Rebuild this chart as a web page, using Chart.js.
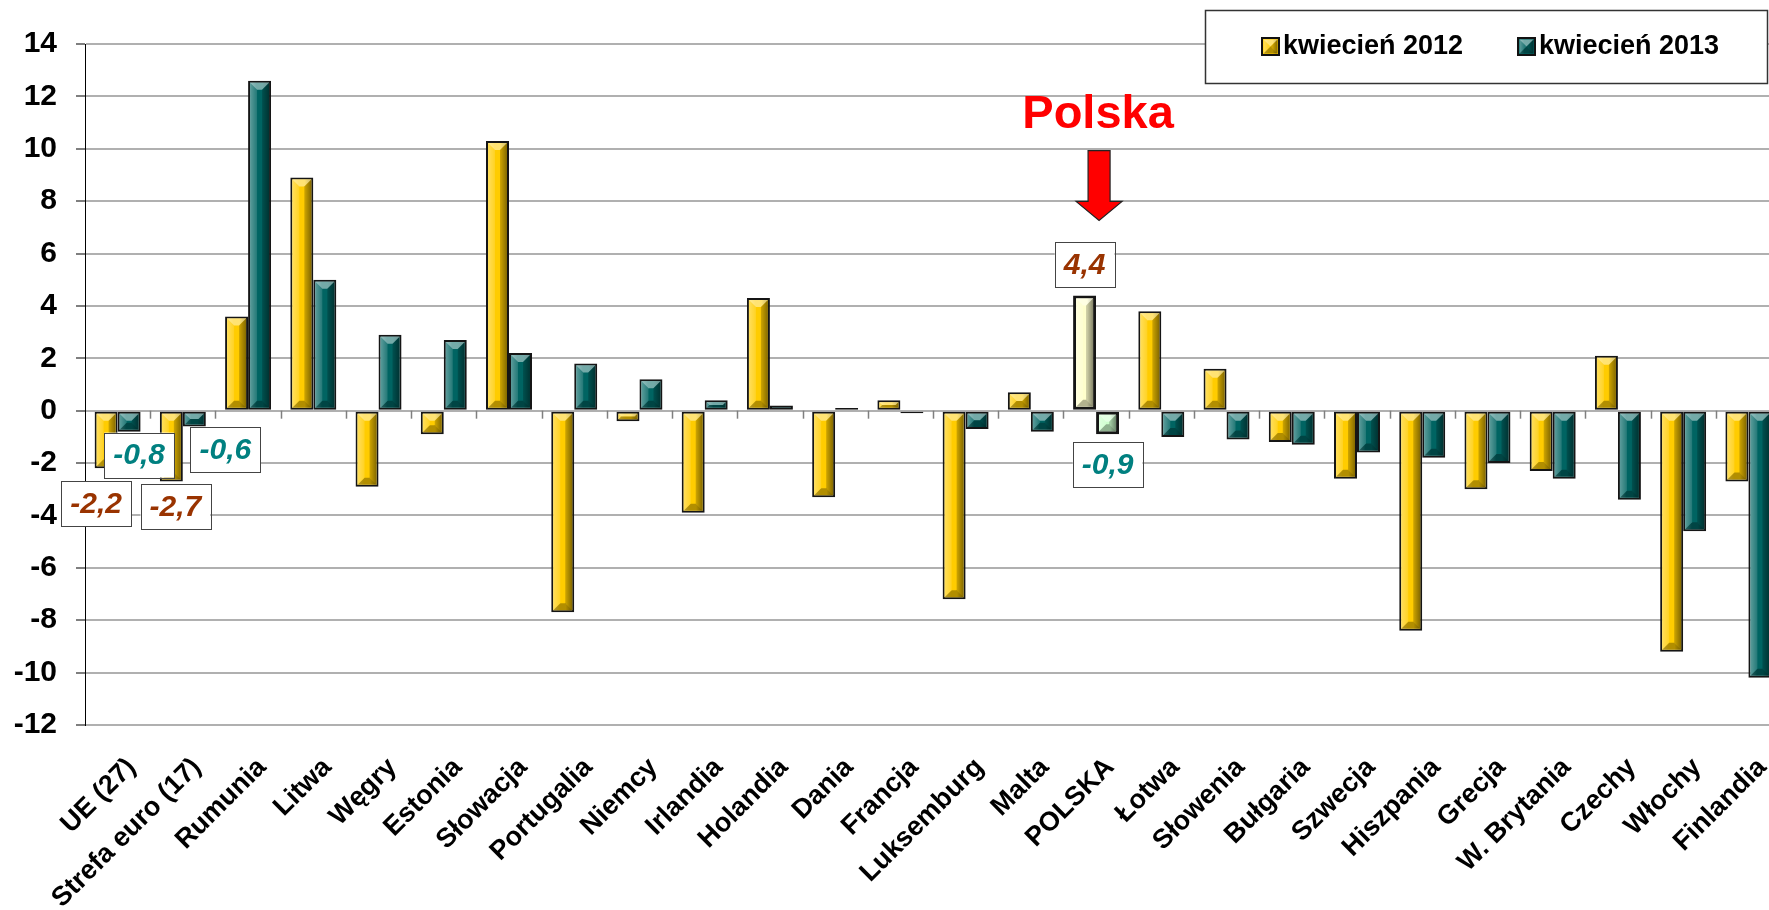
<!DOCTYPE html>
<html lang="pl">
<head>
<meta charset="utf-8">
<title>kwiecień 2012 / kwiecień 2013</title>
<script src="https://cdn.jsdelivr.net/npm/chart.js@4.4.1/dist/chart.umd.min.js"></script>
<style>
  html, body { margin: 0; padding: 0; background: #fff; overflow: hidden; }
  #wrap { width: 1781px; height: 910px; }
</style>
</head>
<body>
<div id="wrap"><canvas id="wykres" width="1781" height="910"></canvas></div>
<script>
// dane
const kraje = ['UE (27)', 'Strefa euro (17)', 'Rumunia', 'Litwa', 'Węgry', 'Estonia', 'Słowacja',
  'Portugalia', 'Niemcy', 'Irlandia', 'Holandia', 'Dania', 'Francja', 'Luksemburg', 'Malta',
  'POLSKA', 'Łotwa', 'Słowenia', 'Bułgaria', 'Szwecja', 'Hiszpania', 'Grecja', 'W. Brytania',
  'Czechy', 'Włochy', 'Finlandia'];
const kwiecien2012 = [-2.2, -2.7, 3.6, 8.9, -2.9, -0.9, 10.3, -7.7, -0.4, -3.9, 4.3, -3.3, 0.4,
  -7.2, 0.7, 4.4, 3.8, 1.6, -1.2, -2.6, -8.4, -3.0, -2.3, 2.1, -9.2, -2.7];
const kwiecien2013 = [-0.8, -0.6, 12.6, 5.0, 2.9, 2.7, 2.2, 1.8, 1.2, 0.4, 0.2, 0.1, -0.1,
  -0.7, -0.8, -0.9, -1.0, -1.1, -1.3, -1.6, -1.8, -2.0, -2.6, -3.4, -4.6, -10.2];
const serie = ['kwiecień 2012', 'kwiecień 2013'];
const podpisane = ['UE (27)', 'Strefa euro (17)', 'POLSKA'];
const wyrozniony = 'POLSKA';
const yMin = -12, yMax = 14, yKrok = 2;

const FONT = "'Liberation Sans', Arial, sans-serif";
const kolory = ['#FFCC00', '#006462'];
const koloryPL = ['#FFFFCC', '#CCFFCC'];
const koloryTekstu = ['#993300', '#008080'];
const iPL = kraje.indexOf(wyrozniony);

const fmt = v => v.toFixed(1).replace('.', ',');

// przesunięcia ramek z wartościami (dx od środka słupka, odstęp od końca słupka)
const ramki = {
  'UE (27)|0': { dx: -10, gap: 13 },
  'UE (27)|1': { dx: 10, gap: 1 },
  'Strefa euro (17)|0': { dx: 4, gap: 3 },
  'Strefa euro (17)|1': { dx: 31, gap: 1 },
  'POLSKA|0': { dx: 0, gap: 8 },
  'POLSKA|1': { dx: 0, gap: 8 }
};

function wielokat(ctx, pts, fill) {
  ctx.beginPath();
  ctx.moveTo(pts[0][0], pts[0][1]);
  for (let i = 1; i < pts.length; i++) ctx.lineTo(pts[i][0], pts[i][1]);
  ctx.closePath();
  ctx.fillStyle = fill;
  ctx.fill();
}

// efekt fazowania na prostokącie
function faza(ctx, l, t, r, b) {
  const w = r - l, h = b - t;
  if (w <= 1 || h <= 1) return;
  const f = Math.min(7, w / 2, h / 2);
  const g = ctx.createLinearGradient(l, 0, r, 0);
  g.addColorStop(0, 'rgba(255,255,255,0.25)');
  g.addColorStop(0.35, 'rgba(255,255,255,0)');
  g.addColorStop(0.65, 'rgba(0,0,0,0)');
  g.addColorStop(1, 'rgba(0,0,0,0.35)');
  ctx.fillStyle = g;
  ctx.fillRect(l, t, w, h);
  wielokat(ctx, [[l, t], [r, t], [r - f, t + f], [l + f, t + f]], 'rgba(255,255,255,0.45)');
  wielokat(ctx, [[l, b], [r, b], [r - f, b - f], [l + f, b - f]], 'rgba(0,0,0,0.3)');
  wielokat(ctx, [[l, t], [l + f, t + f], [l + f, b - f], [l, b]], 'rgba(255,255,255,0.15)');
  wielokat(ctx, [[r, t], [r - f, t + f], [r - f, b - f], [r, b]], 'rgba(0,0,0,0.2)');
}

const fazowanie = {
  id: 'fazowanie',
  afterDatasetsDraw(chart) {
    const ctx = chart.ctx;
    ctx.save();
    chart.data.datasets.forEach((ds, di) => {
      chart.getDatasetMeta(di).data.forEach((bar, i) => {
        const p = bar.getProps(['x', 'y', 'base', 'width'], true);
        const bw = i === iPL ? 3 : 2;
        const l = p.x - p.width / 2 + bw, r = p.x + p.width / 2 - bw;
        const t = Math.min(p.y, p.base) + bw, b = Math.max(p.y, p.base) - bw;
        faza(ctx, l, t, r, b);
      });
    });
    ctx.restore();
  }
};

const dodatki = {
  id: 'dodatki',
  afterDraw(chart) {
    const ctx = chart.ctx;
    const xs = chart.scales.x, ys = chart.scales.y;
    const y0 = ys.getPixelForValue(0);
    ctx.save();

    // kreski podziału kategorii na linii zera
    const szer = (xs.right - xs.left) / kraje.length;
    ctx.strokeStyle = '#7f7f7f';
    ctx.lineWidth = 1.5;
    for (let i = 1; i < kraje.length; i++) {
      const x = Math.round(xs.left + i * szer) + 0.5;
      ctx.beginPath();
      ctx.moveTo(x, y0);
      ctx.lineTo(x, y0 + 8);
      ctx.stroke();
    }

    // podpisy kategorii pod kątem 45°
    ctx.font = `bold 27px ${FONT}`;
    ctx.fillStyle = '#000';
    ctx.textAlign = 'right';
    ctx.textBaseline = 'middle';
    kraje.forEach((k, i) => {
      ctx.save();
      ctx.translate(xs.getPixelForValue(i) + 14, ys.bottom + 38);
      ctx.rotate(-Math.PI / 4);
      ctx.fillText(k, 0, 0);
      ctx.restore();
    });

    // ramki z wartościami
    ctx.font = `italic bold 30px ${FONT}`;
    ctx.textAlign = 'center';
    ctx.textBaseline = 'middle';
    [kwiecien2012, kwiecien2013].forEach((dane, di) => {
      const meta = chart.getDatasetMeta(di);
      podpisane.forEach(k => {
        const i = kraje.indexOf(k);
        const poz = ramki[k + '|' + di];
        const bar = meta.data[i];
        const v = dane[i];
        const txt = fmt(v);
        const w = ctx.measureText(txt).width + 18, h = 45;
        const cx = bar.x + poz.dx;
        const top = v < 0 ? Math.max(bar.y, bar.base) + poz.gap : Math.min(bar.y, bar.base) - poz.gap - h;
        ctx.fillStyle = '#fff';
        ctx.fillRect(cx - w / 2, top, w, h);
        ctx.strokeStyle = '#444';
        ctx.lineWidth = 1;
        ctx.strokeRect(Math.round(cx - w / 2) + 0.5, Math.round(top) + 0.5, Math.round(w), h);
        ctx.fillStyle = koloryTekstu[di];
        ctx.fillText(txt, cx, top + h / 2 + 1);
      });
    });

    // napis Polska i strzałka
    const cxPL = xs.getPixelForValue(iPL);
    ctx.font = `bold 47px ${FONT}`;
    ctx.fillStyle = '#FF0000';
    ctx.textAlign = 'center';
    ctx.textBaseline = 'alphabetic';
    ctx.fillText('Polska', cxPL + 2, ys.getPixelForValue(10.8));
    const ax = cxPL + 3;
    const yA = ys.getPixelForValue(9.93), yB = ys.getPixelForValue(7.99), yC = ys.getPixelForValue(7.26);
    ctx.beginPath();
    ctx.moveTo(ax - 11, yA); ctx.lineTo(ax + 11, yA); ctx.lineTo(ax + 11, yB);
    ctx.lineTo(ax + 23, yB); ctx.lineTo(ax, yC); ctx.lineTo(ax - 23, yB);
    ctx.lineTo(ax - 11, yB); ctx.closePath();
    ctx.fillStyle = '#FF0000';
    ctx.fill();
    ctx.strokeStyle = '#222';
    ctx.lineWidth = 1.2;
    ctx.stroke();

    // legenda
    const lx = 1205, ly = 10, lw = 562, lh = 73;
    ctx.fillStyle = '#fff';
    ctx.fillRect(lx, ly, lw, lh);
    ctx.strokeStyle = '#333';
    ctx.lineWidth = 1.5;
    ctx.strokeRect(lx + 0.5, ly + 0.5, lw, lh);
    const pozLeg = [1262, 1518];
    ctx.font = `bold 27px ${FONT}`;
    ctx.textAlign = 'left';
    ctx.textBaseline = 'middle';
    serie.forEach((s, di) => {
      const sx = pozLeg[di], sy = 38;
      ctx.fillStyle = kolory[di];
      ctx.fillRect(sx, sy, 17, 17);
      faza(ctx, sx + 1.5, sy + 1.5, sx + 15.5, sy + 15.5);
      ctx.strokeStyle = '#111';
      ctx.lineWidth = 2;
      ctx.strokeRect(sx, sy, 17, 17);
      ctx.fillStyle = '#000';
      ctx.fillText(s, sx + 21, sy + 9);
    });
    ctx.restore();
  }
};

const kolorSlupka = di => c => (c.dataIndex === iPL ? koloryPL[di] : kolory[di]);

new Chart(document.getElementById('wykres'), {
  type: 'bar',
  data: {
    labels: kraje,
    datasets: [kwiecien2012, kwiecien2013].map((d, di) => ({
      label: serie[di],
      data: d,
      backgroundColor: kolorSlupka(di),
      borderColor: '#151515',
      borderWidth: c => (c.dataIndex === iPL ? 3 : 2),
      borderSkipped: false,
      categoryPercentage: 0.705,
      barPercentage: 1
    }))
  },
  options: {
    responsive: false,
    devicePixelRatio: 1,
    animation: false,
    layout: { padding: { top: 44, right: 0, bottom: 0, left: 0 } },
    plugins: {
      legend: { display: false },
      tooltip: { enabled: false }
    },
    scales: {
      x: {
        offset: true,
        grid: { display: false, drawTicks: false },
        border: { display: false },
        ticks: { display: false },
        afterFit: s => { s.height = 185; s.paddingLeft = 0; s.paddingRight = 0; }
      },
      y: {
        min: yMin,
        max: yMax,
        ticks: {
          stepSize: yKrok,
          color: '#000',
          padding: 19,
          font: { family: FONT, size: 30, weight: 'bold' }
        },
        grid: { color: '#b0b0b0', lineWidth: 2, tickLength: 9, tickColor: '#7f7f7f' },
        border: { display: true, color: '#000', width: 1 },
        afterFit: s => { s.width = 85; s.paddingTop = 0; s.paddingBottom = 0; }
      }
    }
  },
  plugins: [fazowanie, dodatki]
});
</script>
</body>
</html>
